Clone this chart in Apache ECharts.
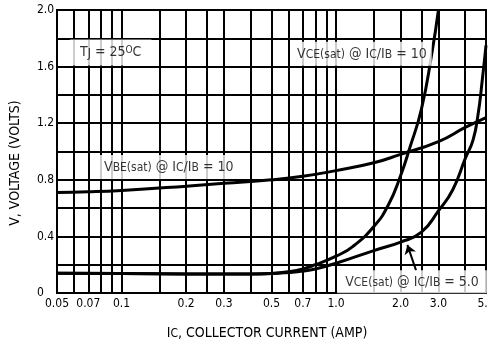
<!DOCTYPE html>
<html>
<head>
<meta charset="utf-8">
<script src="https://cdn.jsdelivr.net/npm/echarts@6/dist/echarts.min.js"></script>
<style>
html,body{margin:0;padding:0;background:#fff;}
#chart{width:488px;height:340px;}
</style>
</head>
<body>
<div id="chart"></div>
<script>
// ---- data ----
const xGridValues = [0.05,0.06,0.07,0.08,0.09,0.1,0.15,0.2,0.25,0.3,0.4,0.5,0.6,0.7,0.8,0.9,1,1.5,2,2.5,3,4,5];
const xLabelValues = [0.05,0.07,0.1,0.2,0.3,0.5,0.7,1,2,3,5];
const xLabelTexts = ['0.05','0.07','0.1','0.2','0.3','0.5','0.7','1.0','2.0','3.0','5.0'];
const yTickValues = [0,0.4,0.8,1.2,1.6,2.0];
const yTickLabels = ['0','0.4','0.8','1.2','1.6','2.0'];

const vbeI = [0.05,0.07,0.1,0.2,0.3,0.5,0.7,1.0,1.5,2.0,3.0,4.0,5.0];
const vbeV = [0.71,0.715,0.725,0.755,0.775,0.80,0.825,0.865,0.92,0.98,1.07,1.17,1.24];

const vce10I = [0.05,0.1,0.2,0.3,0.4,0.5,0.6,0.7,0.8,1.0,1.2,1.5,1.75,2.0,2.2,2.5,2.8,3.0];
const vce10V = [0.14,0.138,0.135,0.134,0.134,0.138,0.15,0.17,0.20,0.26,0.33,0.47,0.62,0.83,1.02,1.30,1.70,2.0];

const vce5I = [0.05,0.1,0.2,0.3,0.4,0.5,0.6,0.7,0.8,1.0,1.5,2.0,2.5,3.0,3.5,4.0,4.35,4.6,4.8,5.0];
const vce5V = [0.14,0.138,0.135,0.134,0.134,0.137,0.145,0.155,0.17,0.21,0.30,0.36,0.43,0.58,0.73,0.95,1.08,1.27,1.5,1.75];

// ---- chart ----
const F = "'Liberation Sans Narrow','DejaVu Sans Condensed','Liberation Sans',sans-serif";
const INK = '#000';
const zip = (a, b) => a.map((v, i) => [v, b[i]]);

const rich = {
  n: {fontFamily: F, fontSize: 14, color: INK, lineHeight: 14, verticalAlign: 'top'},
  s: {fontFamily: F, fontSize: 12, color: INK, lineHeight: 3, verticalAlign: 'bottom'},
  p: {fontFamily: F, fontSize: 10, color: INK, lineHeight: 8, verticalAlign: 'top'}
};

const gridLines = xGridValues.map(x => {
  const li = xLabelValues.indexOf(x);
  return [
    {coord: [x, 0], label: li >= 0 ? {show: true, formatter: xLabelTexts[li]} : {show: false}},
    {coord: [x, 2]}
  ];
});

function curve(name, I, V) {
  return {
    name, type: 'line', data: zip(I, V), showSymbol: false, symbol: 'none',
    smooth: 0.5, z: 4, clip: true,
    lineStyle: {color: '#000', width: 3}
  };
}

function ann(value, text, padding) {
  return {
    value,
    label: {show: true, position: 'inside', formatter: text, rich,
      backgroundColor: '#fff', padding}
  };
}

const option = {
  animation: false,
  backgroundColor: '#fff',
  grid: {left: 57, right: 2, top: 10, bottom: 47, show: true, borderColor: '#000', borderWidth: 2},
  xAxis: {
    type: 'log', logBase: 10, min: 0.05, max: 5,
    axisLine: {show: true, lineStyle: {color: '#000', width: 2}},
    axisTick: {show: false}, axisLabel: {show: false}, splitLine: {show: false}
  },
  yAxis: {
    type: 'value', min: 0, max: 2, interval: 0.2,
    axisLine: {show: true, lineStyle: {color: '#000', width: 2}},
    axisTick: {show: false},
    splitLine: {show: true, lineStyle: {color: '#000', width: 2}},
    axisLabel: {
      align: 'left', margin: 20, fontFamily: F, fontSize: 12, color: INK,
      formatter: v => {
        const i = yTickValues.findIndex(t => Math.abs(t - v) < 1e-6);
        return i >= 0 ? yTickLabels[i] : '';
      }
    }
  },
  series: [
    {
      type: 'line', data: [], z: 1, silent: true,
      markLine: {
        silent: true, symbol: 'none', animation: false,
        lineStyle: {color: '#000', width: 2, type: 'solid'},
        label: {position: 'start', distance: 5, fontFamily: F, fontSize: 12, color: INK},
        data: gridLines
      }
    },
    curve('VBE(sat) @ IC/IB = 10', vbeI, vbeV),
    curve('VCE(sat) @ IC/IB = 10', vce10I, vce10V),
    curve('VCE(sat) @ IC/IB = 5.0', vce5I, vce5V),
    {
      type: 'scatter', symbolSize: 0, z: 6, silent: true,
      data: [
        ann([0.089, 1.70], '{n|T}{s|J}{n| = 25}{p|O}{n|C}', [6, 10, 6, 10]),
        ann([1.32, 1.69], '{n|V}{s|CE(sat)}{n| @ I}{s|C}{n|/I}{s|B}{n| = 10}', [5, 5, 5, 5]),
        ann([0.166, 0.89], '{n|V}{s|BE(sat)}{n| @ I}{s|C}{n|/I}{s|B}{n| = 10}', [5, 5, 5, 5]),
        ann([2.26, 0.08], '{n|V}{s|CE(sat)}{n| @ I}{s|C}{n|/I}{s|B}{n| = 5.0}', [5, 8, 4, 8])
      ]
    },
    {
      type: 'line', data: [], z: 7, silent: true,
      markLine: {
        silent: true, symbol: ['none', 'arrow'], symbolSize: 9, animation: false,
        lineStyle: {color: '#000', width: 2, type: 'solid'},
        label: {show: false},
        data: [[{coord: [2.36, 0.16]}, {coord: [2.15, 0.34]}]]
      }
    }
  ],
  graphic: [
    {type: 'text', x: 267, y: 333, silent: true,
      style: {text: '{n|I}{s|C}{n|, COLLECTOR CURRENT (AMP)}', rich, align: 'center', verticalAlign: 'middle'}},
    {type: 'text', x: 15, y: 163, rotation: Math.PI / 2, silent: true,
      style: {text: 'V, VOLTAGE (VOLTS)', fontFamily: F, fontSize: 14, fill: INK, align: 'center', verticalAlign: 'middle'}}
  ]
};

const chart = echarts.init(document.getElementById('chart'), null, {renderer: 'canvas'});
chart.setOption(option);
</script>
</body>
</html>
